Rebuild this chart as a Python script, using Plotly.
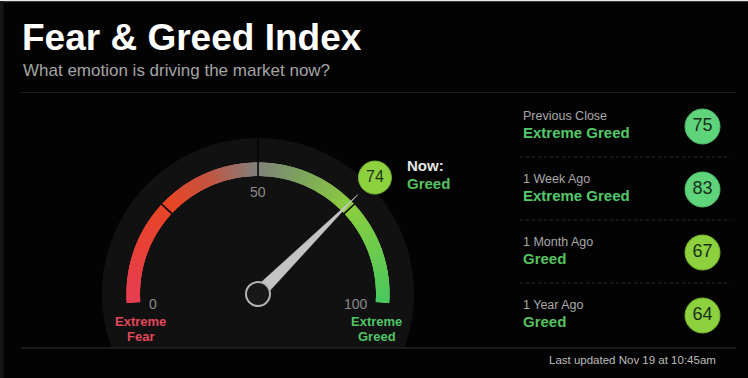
import numpy as np
import plotly.graph_objects as go

W, H = 748, 378

# ---------------- data ----------------
title_text = "Fear & Greed Index"
subtitle_text = "What emotion is driving the market now?"
updated_text = "Last updated Nov 19 at 10:45am"

now_value = 74
now_rating = "Greed"
now_label = "Now:"

hist_labels = ["Previous Close", "1 Week Ago", "1 Month Ago", "1 Year Ago"]
hist_ratings = ["Extreme Greed", "Extreme Greed", "Greed", "Greed"]
hist_values = [75, 83, 67, 64]

scale_ticks = [0, 50, 100]
scale_tick_labels = ["0", "50", "100"]
zone_bounds = [25, 50, 75]
left_end_label = ["Extreme", "Fear"]
right_end_label = ["Extreme", "Greed"]

# ---------------- style ----------------
BG = "#030303"
DISC = "#111111"
RATING_COLORS = {"Extreme Greed": "#5fd47b", "Greed": "#8dd13f"}
RATING_TEXT = {"Extreme Greed": "#52c86a", "Greed": "#56c25e"}
GRAD_STOPS = [(0, (230, 62, 84)), (14, (232, 64, 56)), (27, (232, 70, 38)),
              (38, (196, 84, 64)), (50, (130, 128, 124)), (60, (124, 160, 96)),
              (75, (140, 206, 62)), (100, (74, 200, 94))]
FONT = "Liberation Sans, Arial, sans-serif"

# gauge geometry (pixels)
CX, CY = 258, 294
R_IN, R_OUT, R_NEEDLE, R_BUBBLE, R_BOX, R_DISC = 118, 131.5, 141, 165, 160, 156
START, SPAN = 184, 188          # value 0 at 184 deg, sweeping clockwise 188 deg
EXT = START - 180               # extension below the horizontal


def grad_color(v):
    for (v0, c0), (v1, c1) in zip(GRAD_STOPS[:-1], GRAD_STOPS[1:]):
        if v0 <= v <= v1:
            t = (v - v0) / (v1 - v0)
            c = [round(a + (b - a) * t) for a, b in zip(c0, c1)]
            return "rgb(%d,%d,%d)" % tuple(c)
    return "rgb(%d,%d,%d)" % GRAD_STOPS[-1][1]


def theta_of(v):
    return SPAN * v / 100.0


def pix(v, r):
    a = np.radians(START - SPAN * v / 100.0)
    return CX + r * np.cos(a), CY - r * np.sin(a)


fig = go.Figure()

# ---------------- polar gauge ----------------
step = 0.5
vs = np.arange(0, 100, step) + step / 2
# each slice overlaps its neighbour so no seams show; edges are clamped
thetas, widths = [], []
for v in vs:
    lo = max(0.0, v - step * 1.5)
    hi = min(100.0, v + step * 1.5)
    thetas.append(theta_of((lo + hi) / 2))
    widths.append(theta_of(hi - lo))
fig.add_trace(go.Barpolar(
    r=[R_OUT - R_IN] * len(vs), base=[R_IN] * len(vs),
    theta=thetas, width=widths,
    marker=dict(color=[grad_color(v) for v in vs], line=dict(width=0)),
    hoverinfo="skip", subplot="polar", showlegend=False))

# zone dividers
dr, dt = [], []
for b in zone_bounds:
    r_top = R_DISC + 2 if b == 50 else R_OUT + 0.5
    dr += [R_IN - 0.5, r_top, None]
    dt += [theta_of(b), theta_of(b), None]
fig.add_trace(go.Scatterpolar(r=dr, theta=dt, mode="lines",
                              line=dict(color="#050505", width=1.6),
                              hoverinfo="skip", subplot="polar", showlegend=False))

# needle
tn = theta_of(now_value)
fig.add_trace(go.Scatterpolar(
    r=[6.5, R_NEEDLE, 6.5, 6.5], theta=[tn - 90, tn, tn + 90, tn - 90],
    mode="lines", fill="toself", fillcolor="#c4c4c4",
    line=dict(color="#c4c4c4", width=0.5),
    hoverinfo="skip", subplot="polar", showlegend=False))

# pivot
fig.add_trace(go.Scatterpolar(
    r=[0], theta=[0], mode="markers",
    marker=dict(size=24, color="#181818", line=dict(color="#b4b4b4", width=2)),
    hoverinfo="skip", subplot="polar", showlegend=False))

x0p, x1p = CX - R_BOX, CX + R_BOX
ytop, ybot = CY - R_BOX, CY + R_BOX * np.sin(np.radians(EXT))
fig.update_layout(polar=dict(
    domain=dict(x=[x0p / W, x1p / W], y=[(H - ybot) / H, (H - ytop) / H]),
    sector=[-EXT, START], hole=0, bgcolor="rgba(0,0,0,0)",
    radialaxis=dict(range=[0, R_BOX], visible=False, showgrid=False),
    angularaxis=dict(visible=False, showgrid=False, rotation=START,
                     direction="clockwise", thetaunit="degrees"),
))

# ---------------- cartesian overlay (pixel space) ----------------
bx, by = pix(now_value, R_BUBBLE)
fig.add_trace(go.Scatter(
    x=[bx], y=[by], mode="markers+text", text=[str(now_value)],
    textposition="middle center",
    textfont=dict(family=FONT, size=16, color="#1d3312"),
    marker=dict(size=33, color=RATING_COLORS[now_rating],
                line=dict(color="#76b533", width=1)),
    hoverinfo="skip", showlegend=False))

ROW0, ROW_STEP, BUB_X = 126.5, 63, 702.5
row_y = [ROW0 + i * ROW_STEP for i in range(len(hist_values))]
fig.add_trace(go.Scatter(
    x=[BUB_X] * len(hist_values), y=row_y, mode="markers+text",
    text=[str(v) for v in hist_values], textposition="middle center",
    textfont=dict(family=FONT, size=18, color="#17301a"),
    marker=dict(size=35, color=[RATING_COLORS[r] for r in hist_ratings],
                line=dict(color=["#4fb868" if r == "Extreme Greed" else "#72b030"
                                 for r in hist_ratings], width=1)),
    hoverinfo="skip", showlegend=False))

fig.update_xaxes(range=[0, W], visible=False, fixedrange=True, domain=[0, 1])
fig.update_yaxes(range=[H, 0], visible=False, fixedrange=True, domain=[0, 1])

# shapes
shapes = []
# disc behind gauge, clipped at bottom rule
y_clip = 347
start_a = 180 + np.degrees(np.arcsin((y_clip - CY) / R_DISC))
end_a = -np.degrees(np.arcsin((y_clip - CY) / R_DISC))
angs = np.linspace(start_a, end_a, 240)
pts = ["%s%.2f,%.2f" % ("M" if i == 0 else "L", CX + R_DISC * np.cos(np.radians(a)),
                        CY - R_DISC * np.sin(np.radians(a))) for i, a in enumerate(angs)]
shapes.append(dict(type="path", path=" ".join(pts) + " Z", xref="x", yref="y",
                   fillcolor=DISC, line=dict(width=0), layer="below"))
# frame strips
shapes.append(dict(type="rect", x0=0, x1=W, y0=0, y1=1.2, xref="x", yref="y",
                   fillcolor="#e8e8e8", line=dict(width=0), layer="below"))
shapes.append(dict(type="rect", x0=0, x1=3.5, y0=1.2, y1=H, xref="x", yref="y",
                   fillcolor="#161616", line=dict(width=0), layer="below"))
# rules
shapes.append(dict(type="line", x0=21, x1=736, y0=92.5, y1=92.5, xref="x", yref="y",
                   line=dict(color="#1c1c1c", width=1.2)))
shapes.append(dict(type="line", x0=21, x1=736, y0=348, y1=348, xref="x", yref="y",
                   line=dict(color="#262626", width=1.5)))
for i in range(len(hist_values) - 1):
    yy = row_y[i] + ROW_STEP / 2 - 1
    shapes.append(dict(type="line", x0=520, x1=731, y0=yy, y1=yy, xref="x", yref="y",
                       line=dict(color="#2c2c2c", width=1, dash="dot")))

annotations = []


def ann(text, x, y, size, color, bold=False, xanchor="left"):
    annotations.append(dict(text=("<b>%s</b>" % text) if bold else text, x=x, y=y,
                            xref="x", yref="y", xanchor=xanchor, yanchor="middle",
                            showarrow=False,
                            font=dict(family=FONT, size=size, color=color)))


ann(title_text, 20, 37, 37, "#ffffff", bold=True)
ann(subtitle_text, 21, 70.5, 17, "#a4a4a4")
ann(updated_text, 718, 360, 11.5, "#bdbdbd", xanchor="right")

# gauge texts
tick_pos = {0: (153, 303.5), 50: (258, 192), 100: (356, 303.5)}
for t, lab in zip(scale_ticks, scale_tick_labels):
    ann(lab, tick_pos[t][0], tick_pos[t][1], 14, "#8a8a8a", xanchor="center")
for i, w in enumerate(left_end_label):
    ann(w, 140, 321 + i * 15, 13, "#e3475b", bold=True, xanchor="center")
for i, w in enumerate(right_end_label):
    ann(w, 376.5, 321 + i * 15, 13, "#52c468", bold=True, xanchor="center")
ann(now_label, 405, 165, 15, "#e6e6e6", bold=True)
ann(now_rating, 405, 183, 15, RATING_TEXT[now_rating], bold=True)

# history rows
for lab, rat, yy in zip(hist_labels, hist_ratings, row_y):
    ann(lab, 521, yy - 10.5, 12.5, "#a8a8a8")
    ann(rat, 521, yy + 6, 15, RATING_TEXT[rat], bold=True)

fig.update_layout(width=W, height=H, margin=dict(l=0, r=0, t=0, b=0, pad=0),
                  paper_bgcolor=BG, plot_bgcolor="rgba(0,0,0,0)",
                  shapes=shapes, annotations=annotations, showlegend=False)

fig.write_html("out.html")
